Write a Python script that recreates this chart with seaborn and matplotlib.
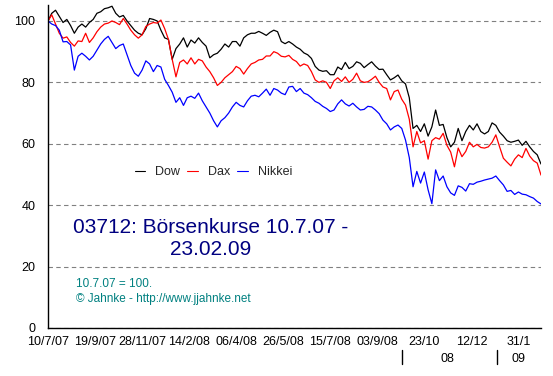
import matplotlib
matplotlib.use("Agg")
import matplotlib.pyplot as plt
import matplotlib.transforms as mtransforms
import numpy as np
import pandas as pd
import seaborn as sns

# ---- data (index 10.7.07 = 100), sampled every 4 trading days ----
days = list(range(0, 525, 4))

dow = [100, 102.5, 103.5, 101.5, 99.5, 100.5, 98.5, 96, 98, 99,
       98, 99.5, 100.5, 102.5, 103, 104, 104.3, 104.8, 102.5, 101.3,
       101.8, 100, 98.5, 97, 96, 95.5, 97.5, 100.8, 100.5, 100,
       97, 94.5, 94, 87.5, 91, 92.5, 94.5, 91.5, 93.8, 92.8,
       94.5, 93, 91.8, 88, 89, 89.5, 90.8, 92.5, 91.5, 93.3,
       93.3, 91.8, 94.5, 95.5, 96, 96, 96.6, 96, 95.3, 96.3,
       97, 96.5, 93.3, 92.6, 93.3, 92.5, 91.5, 90.8, 89.6, 89,
       87.8, 85.2, 84, 83.6, 83.8, 82.5, 82.5, 85, 84.2, 86.5,
       84.5, 85.2, 86.7, 86.2, 84.8, 85.8, 86.7, 85.3, 84.2, 84.3,
       82.5, 80.8, 81.5, 82.4, 80.5, 79.5, 75, 65, 66, 64,
       66.5, 62.5, 65.5, 71, 66, 66.3, 62, 59, 60.5, 65,
       61, 64, 66, 64.5, 66.5, 64, 63.2, 64, 66.8, 66,
       63.8, 62.5, 61, 60.5, 60.8, 61.2, 59.5, 60.8, 59, 57.5,
       56.4, 53.4]

dax = [100, 102, 99, 96, 94.4, 94.8, 93, 91.8, 93.5, 93.3,
       96, 93, 94.5, 96.5, 98, 99, 99.3, 100, 99.5, 98.8,
       100.8, 99, 97, 95.5, 94.4, 95.5, 98.2, 99, 99.5, 99.3,
       100.3, 97.5, 94, 87.5, 81.8, 86.5, 87.3, 86, 88, 86,
       87.5, 87, 85, 83.5, 81.5, 79, 80, 81.5, 82.5, 83.5,
       85.2, 84.5, 82.7, 84.5, 86, 86.5, 87.3, 87.5, 88.6, 88.6,
       90, 89.5, 88.5, 88.3, 88.8, 87.5, 86.8, 85.3, 86, 85.5,
       83.5, 80.8, 80, 80.5, 80, 78, 80.5, 81.5, 80.3, 81.8,
       80, 81, 83, 80.5, 80, 80.2, 81, 82, 80, 78.5,
       78, 74.3, 77, 77.5, 74.5, 72.6, 68, 59, 64, 60.3,
       61, 55, 61, 62, 61.5, 63.4, 59.5, 57.3, 52.5, 58.6,
       55.8, 57.5, 60.5, 59, 59.8, 58.8, 58.6, 59, 60.5, 62.9,
       59, 55.3, 54, 52.8, 55, 56.4, 55.5, 58.5, 56, 54.5,
       53.7, 49.8]

nikkei = [100, 99, 98.5, 97, 93.2, 93.3, 92.2, 84, 88.5, 89.5,
          88.5, 87.3, 88.5, 90.5, 92.5, 94, 95, 93, 91, 92,
          92.5, 89, 85.5, 83, 82, 84, 87, 86, 83.5, 85.5,
          85, 81, 79, 76.8, 73.5, 75, 72.5, 75, 75.5, 74.8,
          76.5, 74, 72, 70, 67.5, 65.5, 67.5, 68.5, 70, 72,
          73.5, 72.5, 72, 74, 75.5, 75.8, 75.3, 76.5, 77.8, 75.8,
          78, 77.5, 76.5, 76, 78.5, 78.7, 77, 78, 76.5, 76,
          75, 73.8, 73.2, 72.2, 71.5, 70.5, 71, 73, 74.3, 73,
          72.3, 73.2, 72, 71, 71.2, 72.2, 72, 71, 69.8, 67.7,
          66.5, 64.5, 65.5, 66.1, 65, 61.2, 55.5, 46, 51, 47.2,
          50.8, 45, 40.5, 51.5, 48, 49.5, 46, 44, 43.2, 46.3,
          45.8, 44.6, 47, 46.8, 47.5, 47.8, 48.2, 48.5, 48.8, 49.5,
          48, 46.6, 44.5, 44.8, 43.5, 44.3, 43.6, 43.4, 42.8, 42.3,
          41.2, 40.4]

series_names = ["Dow", "Dax", "Nikkei"]
series_colors = {"Dow": "black", "Dax": "red", "Nikkei": "blue"}

tick_days = [0, 50, 100, 150, 200, 250, 300, 350, 400, 450, 500]
tick_labels = ["10/7/07", "19/9/07", "28/11/07", "14/2/08", "06/4/08",
               "26/5/08", "15/7/08", "03/9/08", "23/10", "12/12", "31/1"]
year_sep_days = [376, 477]
year_label_days = [425, 500]
year_labels = ["08", "09"]
y_ticks = [0, 20, 40, 60, 80, 100]

title_text = "03712: Börsenkurse 10.7.07 -\n23.02.09"
note1 = "10.7.07 = 100."
note2 = "© Jahnke - http://www.jjahnke.net"

# ---- plotting ----
sns.set_style("white")
plt.rcParams["font.family"] = ["Liberation Sans", "DejaVu Sans"]

df = pd.DataFrame({
    "day": days * 3,
    "value": dow + dax + nikkei,
    "Index": [n for n in series_names for _ in days],
})

W, H = 553, 376
fig = plt.figure(figsize=(W / 100, H / 100), dpi=100)
fig.patch.set_facecolor("white")
ax = fig.add_axes([48 / W, 48 / H, 493 / W, 323 / H])

sns.lineplot(data=df, x="day", y="value", hue="Index", hue_order=series_names,
             palette=series_colors, linewidth=0.9, ax=ax, legend=True)

ax.set_xlim(0, 524)
ax.set_ylim(0, 105.2)
ax.set_xlabel("")
ax.set_ylabel("")
ax.set_xticks(tick_days)
ax.set_xticklabels(tick_labels)
ax.set_yticks(y_ticks)
ax.tick_params(axis="both", length=0, labelsize=9, colors="black")
ax.tick_params(axis="x", pad=6)
ax.tick_params(axis="y", pad=9)

ax.yaxis.grid(True, color="#808080", linestyle=(0, (4, 3)), linewidth=0.8)
ax.xaxis.grid(False)
for s in ["top", "right"]:
    ax.spines[s].set_visible(False)
for s in ["left", "bottom"]:
    ax.spines[s].set_color("black")
    ax.spines[s].set_linewidth(1.0)

leg = ax.legend(loc="center left", bbox_to_anchor=(0.176, 0.483), ncol=3,
                frameon=False, fontsize=9, handlelength=0.85,
                handletextpad=0.8, columnspacing=0.55, borderpad=0,
                borderaxespad=0)
for line in leg.get_lines():
    line.set_linewidth(0.8)

# year markers under the x axis
trans = mtransforms.blended_transform_factory(ax.transData, ax.transAxes)
for d in year_sep_days:
    ax.plot([d, d], [-0.068, -0.111], color="black", lw=1.0,
            transform=trans, clip_on=False)
for d, lab in zip(year_label_days, year_labels):
    ax.text(d, -0.095, lab, transform=trans, ha="center", va="center",
            fontsize=9, color="black", clip_on=False)

fig.text(211 / W, 1 - 239 / H, title_text, ha="center", va="center",
         multialignment="center", color="#000080", fontsize=15,
         linespacing=1.2)
fig.text(76 / W, 1 - 284 / H, note1, ha="left", va="center",
         color="#008080", fontsize=8.5)
fig.text(76 / W, 1 - 299 / H, note2, ha="left", va="center",
         color="#008080", fontsize=8.5)

fig.savefig("out.png", dpi=100, facecolor="white")
